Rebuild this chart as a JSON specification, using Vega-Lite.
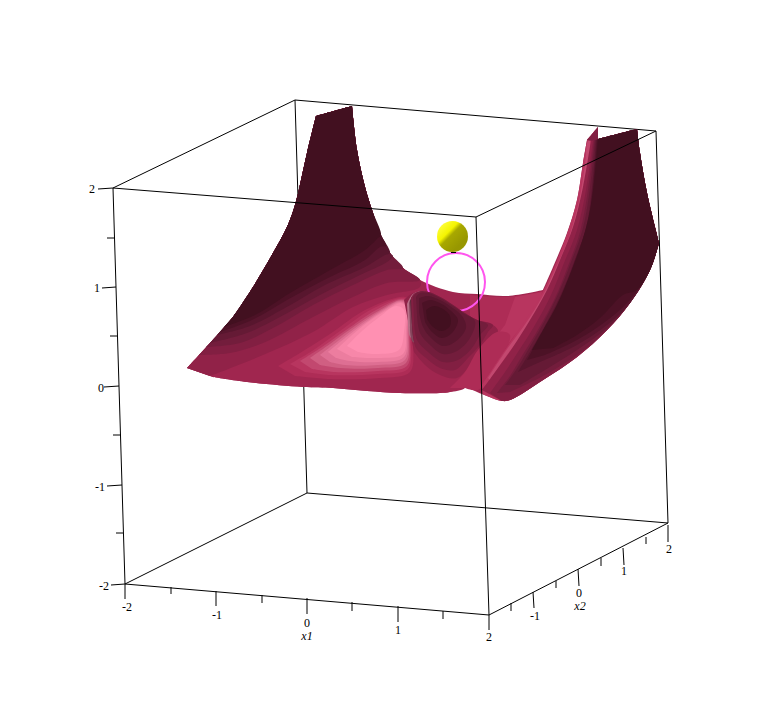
{"$schema":"https://vega.github.io/schema/vega-lite/v6.json","width":782,"height":714,"padding":0,"autosize":{"type":"fit","contains":"padding"},"background":"white","view":{"stroke":null},
"datasets":{
"edgesBack":[
{"edge":"AB","x":113,"y":188},{"edge":"AB","x":295,"y":100},
{"edge":"BC","x":295,"y":100},{"edge":"BC","x":656,"y":131},
{"edge":"BF","x":295,"y":100},{"edge":"BF","x":307,"y":493},
{"edge":"EF","x":125,"y":584},{"edge":"EF","x":307,"y":493},
{"edge":"FG","x":307,"y":493},{"edge":"FG","x":668,"y":523},
{"edge":"CG","x":656,"y":131},{"edge":"CG","x":668,"y":523}],
"edgesFront":[
{"edge":"AD","x":113,"y":188},{"edge":"AD","x":476,"y":217},
{"edge":"CD","x":656,"y":131},{"edge":"CD","x":476,"y":217},
{"edge":"DH","x":476,"y":217},{"edge":"DH","x":489,"y":615},
{"edge":"AE","x":113,"y":188},{"edge":"AE","x":125,"y":584},
{"edge":"EH","x":125,"y":584},{"edge":"EH","x":489,"y":615},
{"edge":"HG","x":489,"y":615},{"edge":"HG","x":668,"y":523},
{"edge":"z2","x":98,"y":189},{"edge":"z2","x":113,"y":188},
{"edge":"z15","x":107,"y":238},{"edge":"z15","x":114,"y":238},
{"edge":"z1","x":102,"y":288},{"edge":"z1","x":116,"y":287},
{"edge":"z05","x":110,"y":336},{"edge":"z05","x":117,"y":336},
{"edge":"z0","x":104,"y":387},{"edge":"z0","x":119,"y":386},
{"edge":"zm05","x":113,"y":435},{"edge":"zm05","x":121,"y":435},
{"edge":"zm1","x":107,"y":486},{"edge":"zm1","x":122,"y":485},
{"edge":"zm15","x":116,"y":533},{"edge":"zm15","x":123,"y":533},
{"edge":"zm2","x":111,"y":585},{"edge":"zm2","x":125,"y":584},
{"edge":"a2","x":125,"y":584},{"edge":"a2","x":125,"y":599},
{"edge":"a15","x":171,"y":587},{"edge":"a15","x":171,"y":594},
{"edge":"a1","x":216,"y":591},{"edge":"a1","x":216,"y":606},
{"edge":"a05","x":262,"y":595},{"edge":"a05","x":262,"y":603},
{"edge":"a0","x":307,"y":598},{"edge":"a0","x":307,"y":614},
{"edge":"ap05","x":352,"y":602},{"edge":"ap05","x":352,"y":611},
{"edge":"ap1","x":398,"y":606},{"edge":"ap1","x":398,"y":622},
{"edge":"ap15","x":443,"y":611},{"edge":"ap15","x":443,"y":619},
{"edge":"ap2","x":489,"y":615},{"edge":"ap2","x":489,"y":630},
{"edge":"b15","x":511,"y":603},{"edge":"b15","x":511,"y":611},
{"edge":"b1","x":533,"y":592},{"edge":"b1","x":534,"y":608},
{"edge":"b05","x":556,"y":581},{"edge":"b05","x":556,"y":588},
{"edge":"b0","x":578,"y":569},{"edge":"b0","x":579,"y":586},
{"edge":"bp05","x":601,"y":558},{"edge":"bp05","x":601,"y":566},
{"edge":"bp1","x":623,"y":548},{"edge":"bp1","x":624,"y":565},
{"edge":"bp15","x":646,"y":537},{"edge":"bp15","x":646,"y":544},
{"edge":"bp2","x":668,"y":525},{"edge":"bp2","x":668,"y":542},
{"edge":"tip","x":451,"y":252.5},{"edge":"tip","x":456,"y":252.5}],
"labels":[
{"text":"2","x":92,"y":189},{"text":"1","x":97,"y":288},{"text":"0","x":101,"y":388},{"text":"-1","x":100,"y":487},{"text":"-2","x":104,"y":586},
{"text":"-2","x":127,"y":607},{"text":"-1","x":217,"y":615},{"text":"0","x":307,"y":623},{"text":"1","x":398,"y":630},{"text":"2","x":489,"y":637},
{"text":"-1","x":535,"y":616},{"text":"0","x":579,"y":593},{"text":"1","x":624,"y":571},{"text":"2","x":669,"y":549}],
"axisTitles":[{"text":"x1","x":307,"y":636},{"text":"x2","x":580,"y":606}],
"balls":[{"name":"ring","x":456,"y":282},{"name":"sphere","x":452.5,"y":236.5}],
"surfaceBack":[
{"p":1,"s":7,"x":187,"y":368},{"p":1,"s":7,"x":187,"y":368},{"p":1,"s":7,"x":210,"y":343},{"p":1,"s":7,"x":233,"y":317},{"p":1,"s":7,"x":253,"y":287},{"p":1,"s":7,"x":273,"y":253},{"p":1,"s":7,"x":287,"y":227},{"p":1,"s":7,"x":295,"y":205},{"p":1,"s":7,"x":307,"y":153},{"p":1,"s":7,"x":316,"y":116},{"p":1,"s":7,"x":316,"y":116},{"p":1,"s":7,"x":352,"y":106},{"p":1,"s":7,"x":352,"y":106},{"p":1,"s":7,"x":357,"y":150},{"p":1,"s":7,"x":365,"y":187},{"p":1,"s":7,"x":372,"y":210},{"p":1,"s":7,"x":380,"y":233},{"p":1,"s":7,"x":390,"y":253},{"p":1,"s":7,"x":403,"y":268},{"p":1,"s":7,"x":420,"y":280},{"p":1,"s":7,"x":453,"y":292},{"p":1,"s":7,"x":477,"y":294},{"p":1,"s":7,"x":507,"y":296},{"p":1,"s":7,"x":543,"y":290},{"p":1,"s":7,"x":543,"y":290},{"p":1,"s":7,"x":553,"y":267},{"p":1,"s":7,"x":567,"y":233},{"p":1,"s":7,"x":577,"y":200},{"p":1,"s":7,"x":583,"y":163},{"p":1,"s":7,"x":587,"y":140},{"p":1,"s":7,"x":587,"y":140},{"p":1,"s":7,"x":598,"y":127},{"p":1,"s":7,"x":598,"y":127},{"p":1,"s":7,"x":598,"y":139},{"p":1,"s":7,"x":598,"y":139},{"p":1,"s":7,"x":637,"y":129},{"p":1,"s":7,"x":637,"y":129},{"p":1,"s":7,"x":640,"y":153},{"p":1,"s":7,"x":647,"y":193},{"p":1,"s":7,"x":659,"y":243},{"p":1,"s":7,"x":659,"y":243},{"p":1,"s":7,"x":650,"y":270},{"p":1,"s":7,"x":630,"y":303},{"p":1,"s":7,"x":607,"y":330},{"p":1,"s":7,"x":577,"y":357},{"p":1,"s":7,"x":543,"y":380},{"p":1,"s":7,"x":510,"y":400},{"p":1,"s":7,"x":502,"y":401},{"p":1,"s":7,"x":482,"y":394},{"p":1,"s":7,"x":465,"y":388},{"p":1,"s":7,"x":450,"y":392},{"p":1,"s":7,"x":440,"y":393},{"p":1,"s":7,"x":400,"y":393},{"p":1,"s":7,"x":367,"y":391},{"p":1,"s":7,"x":333,"y":388},{"p":1,"s":7,"x":303,"y":387},{"p":1,"s":7,"x":247,"y":382},{"p":1,"s":7,"x":213,"y":377},
{"p":2,"s":8,"x":470,"y":295},{"p":2,"s":8,"x":470,"y":295},{"p":2,"s":8,"x":507,"y":297},{"p":2,"s":8,"x":543,"y":291},{"p":2,"s":8,"x":543,"y":291},{"p":2,"s":8,"x":530,"y":320},{"p":2,"s":8,"x":510,"y":345},{"p":2,"s":8,"x":480,"y":385},{"p":2,"s":8,"x":470,"y":360},
{"p":3,"s":9,"x":515,"y":297},{"p":3,"s":9,"x":515,"y":297},{"p":3,"s":9,"x":542,"y":292},{"p":3,"s":9,"x":542,"y":292},{"p":3,"s":9,"x":540,"y":300},{"p":3,"s":9,"x":525,"y":322},{"p":3,"s":9,"x":505,"y":348},{"p":3,"s":9,"x":490,"y":370},{"p":3,"s":9,"x":492,"y":345},{"p":3,"s":9,"x":505,"y":325}],
"surfaceFront":[
{"p":10,"s":7,"x":187,"y":368},{"p":10,"s":7,"x":187,"y":368},{"p":10,"s":7,"x":210,"y":343},{"p":10,"s":7,"x":233,"y":317},{"p":10,"s":7,"x":253,"y":287},{"p":10,"s":7,"x":273,"y":253},{"p":10,"s":7,"x":287,"y":227},{"p":10,"s":7,"x":295,"y":205},{"p":10,"s":7,"x":307,"y":153},{"p":10,"s":7,"x":316,"y":116},{"p":10,"s":7,"x":316,"y":116},{"p":10,"s":7,"x":352,"y":106},{"p":10,"s":7,"x":352,"y":106},{"p":10,"s":7,"x":357,"y":150},{"p":10,"s":7,"x":365,"y":187},{"p":10,"s":7,"x":372,"y":210},{"p":10,"s":7,"x":380,"y":233},{"p":10,"s":7,"x":390,"y":253},{"p":10,"s":7,"x":403,"y":268},{"p":10,"s":7,"x":420,"y":280},{"p":10,"s":7,"x":428,"y":292},{"p":10,"s":7,"x":440,"y":297},{"p":10,"s":7,"x":453,"y":305},{"p":10,"s":7,"x":463,"y":312},{"p":10,"s":7,"x":477,"y":320},{"p":10,"s":7,"x":493,"y":325},{"p":10,"s":7,"x":486,"y":345},{"p":10,"s":7,"x":470,"y":375},{"p":10,"s":7,"x":465,"y":388},{"p":10,"s":7,"x":450,"y":392},{"p":10,"s":7,"x":440,"y":393},{"p":10,"s":7,"x":400,"y":393},{"p":10,"s":7,"x":367,"y":391},{"p":10,"s":7,"x":333,"y":388},{"p":10,"s":7,"x":303,"y":387},{"p":10,"s":7,"x":247,"y":382},{"p":10,"s":7,"x":213,"y":377},
{"p":11,"s":6,"x":210,"y":376},{"p":11,"s":6,"x":263,"y":355},{"p":11,"s":6,"x":313,"y":332},{"p":11,"s":6,"x":353,"y":307},{"p":11,"s":6,"x":387,"y":295},{"p":11,"s":6,"x":420,"y":287},{"p":11,"s":6,"x":420,"y":280},{"p":11,"s":6,"x":403,"y":268},{"p":11,"s":6,"x":390,"y":253},{"p":11,"s":6,"x":380,"y":233},{"p":11,"s":6,"x":372,"y":210},{"p":11,"s":6,"x":365,"y":187},{"p":11,"s":6,"x":357,"y":150},{"p":11,"s":6,"x":352,"y":106},{"p":11,"s":6,"x":352,"y":106},{"p":11,"s":6,"x":316,"y":116},{"p":11,"s":6,"x":316,"y":116},{"p":11,"s":6,"x":307,"y":153},{"p":11,"s":6,"x":295,"y":205},{"p":11,"s":6,"x":287,"y":227},{"p":11,"s":6,"x":273,"y":253},{"p":11,"s":6,"x":253,"y":287},{"p":11,"s":6,"x":233,"y":317},{"p":11,"s":6,"x":210,"y":343},{"p":11,"s":6,"x":187,"y":368},{"p":11,"s":6,"x":187,"y":368},
{"p":12,"s":5,"x":199,"y":355},{"p":12,"s":5,"x":230,"y":353},{"p":12,"s":5,"x":263,"y":343},{"p":12,"s":5,"x":313,"y":317},{"p":12,"s":5,"x":353,"y":297},{"p":12,"s":5,"x":387,"y":283},{"p":12,"s":5,"x":420,"y":280},{"p":12,"s":5,"x":403,"y":268},{"p":12,"s":5,"x":390,"y":253},{"p":12,"s":5,"x":380,"y":233},{"p":12,"s":5,"x":372,"y":210},{"p":12,"s":5,"x":365,"y":187},{"p":12,"s":5,"x":357,"y":150},{"p":12,"s":5,"x":352,"y":106},{"p":12,"s":5,"x":352,"y":106},{"p":12,"s":5,"x":316,"y":116},{"p":12,"s":5,"x":316,"y":116},{"p":12,"s":5,"x":307,"y":153},{"p":12,"s":5,"x":295,"y":205},{"p":12,"s":5,"x":287,"y":227},{"p":12,"s":5,"x":273,"y":253},{"p":12,"s":5,"x":253,"y":287},{"p":12,"s":5,"x":233,"y":317},{"p":12,"s":5,"x":210,"y":343},
{"p":13,"s":4,"x":206,"y":347},{"p":13,"s":4,"x":240,"y":343},{"p":13,"s":4,"x":273,"y":328},{"p":13,"s":4,"x":313,"y":305},{"p":13,"s":4,"x":353,"y":285},{"p":13,"s":4,"x":387,"y":270},{"p":13,"s":4,"x":403,"y":268},{"p":13,"s":4,"x":390,"y":253},{"p":13,"s":4,"x":380,"y":233},{"p":13,"s":4,"x":372,"y":210},{"p":13,"s":4,"x":365,"y":187},{"p":13,"s":4,"x":357,"y":150},{"p":13,"s":4,"x":352,"y":106},{"p":13,"s":4,"x":352,"y":106},{"p":13,"s":4,"x":316,"y":116},{"p":13,"s":4,"x":316,"y":116},{"p":13,"s":4,"x":307,"y":153},{"p":13,"s":4,"x":295,"y":205},{"p":13,"s":4,"x":287,"y":227},{"p":13,"s":4,"x":273,"y":253},{"p":13,"s":4,"x":253,"y":287},{"p":13,"s":4,"x":233,"y":317},{"p":13,"s":4,"x":210,"y":343},
{"p":14,"s":3,"x":210,"y":343},{"p":14,"s":3,"x":247,"y":333},{"p":14,"s":3,"x":280,"y":317},{"p":14,"s":3,"x":320,"y":295},{"p":14,"s":3,"x":360,"y":275},{"p":14,"s":3,"x":387,"y":262},{"p":14,"s":3,"x":393,"y":256},{"p":14,"s":3,"x":390,"y":253},{"p":14,"s":3,"x":380,"y":233},{"p":14,"s":3,"x":372,"y":210},{"p":14,"s":3,"x":365,"y":187},{"p":14,"s":3,"x":357,"y":150},{"p":14,"s":3,"x":352,"y":106},{"p":14,"s":3,"x":352,"y":106},{"p":14,"s":3,"x":316,"y":116},{"p":14,"s":3,"x":316,"y":116},{"p":14,"s":3,"x":307,"y":153},{"p":14,"s":3,"x":295,"y":205},{"p":14,"s":3,"x":287,"y":227},{"p":14,"s":3,"x":273,"y":253},{"p":14,"s":3,"x":253,"y":287},{"p":14,"s":3,"x":233,"y":317},
{"p":15,"s":2,"x":217,"y":335},{"p":15,"s":2,"x":250,"y":326},{"p":15,"s":2,"x":285,"y":308},{"p":15,"s":2,"x":325,"y":285},{"p":15,"s":2,"x":365,"y":267},{"p":15,"s":2,"x":385,"y":255},{"p":15,"s":2,"x":390,"y":253},{"p":15,"s":2,"x":380,"y":233},{"p":15,"s":2,"x":372,"y":210},{"p":15,"s":2,"x":365,"y":187},{"p":15,"s":2,"x":357,"y":150},{"p":15,"s":2,"x":352,"y":106},{"p":15,"s":2,"x":352,"y":106},{"p":15,"s":2,"x":316,"y":116},{"p":15,"s":2,"x":316,"y":116},{"p":15,"s":2,"x":307,"y":153},{"p":15,"s":2,"x":295,"y":205},{"p":15,"s":2,"x":287,"y":227},{"p":15,"s":2,"x":273,"y":253},{"p":15,"s":2,"x":253,"y":287},{"p":15,"s":2,"x":233,"y":317},
{"p":16,"s":1,"x":220,"y":332},{"p":16,"s":1,"x":252,"y":320},{"p":16,"s":1,"x":287,"y":300},{"p":16,"s":1,"x":328,"y":278},{"p":16,"s":1,"x":365,"y":260},{"p":16,"s":1,"x":380,"y":247},{"p":16,"s":1,"x":386,"y":246},{"p":16,"s":1,"x":380,"y":233},{"p":16,"s":1,"x":372,"y":210},{"p":16,"s":1,"x":365,"y":187},{"p":16,"s":1,"x":357,"y":150},{"p":16,"s":1,"x":352,"y":106},{"p":16,"s":1,"x":352,"y":106},{"p":16,"s":1,"x":316,"y":116},{"p":16,"s":1,"x":316,"y":116},{"p":16,"s":1,"x":307,"y":153},{"p":16,"s":1,"x":295,"y":205},{"p":16,"s":1,"x":287,"y":227},{"p":16,"s":1,"x":273,"y":253},{"p":16,"s":1,"x":253,"y":287},{"p":16,"s":1,"x":233,"y":317},
{"p":17,"s":0,"x":224,"y":327},{"p":17,"s":0,"x":255,"y":315},{"p":17,"s":0,"x":290,"y":293},{"p":17,"s":0,"x":330,"y":270},{"p":17,"s":0,"x":365,"y":250},{"p":17,"s":0,"x":378,"y":238},{"p":17,"s":0,"x":381,"y":235},{"p":17,"s":0,"x":372,"y":210},{"p":17,"s":0,"x":365,"y":187},{"p":17,"s":0,"x":357,"y":150},{"p":17,"s":0,"x":352,"y":106},{"p":17,"s":0,"x":352,"y":106},{"p":17,"s":0,"x":316,"y":116},{"p":17,"s":0,"x":316,"y":116},{"p":17,"s":0,"x":307,"y":153},{"p":17,"s":0,"x":295,"y":205},{"p":17,"s":0,"x":287,"y":227},{"p":17,"s":0,"x":273,"y":253},{"p":17,"s":0,"x":253,"y":287},{"p":17,"s":0,"x":233,"y":317},
{"p":20,"s":8,"x":278,"y":366},{"p":20,"s":8,"x":300,"y":353},{"p":20,"s":8,"x":330,"y":334},{"p":20,"s":8,"x":367,"y":309},{"p":20,"s":8,"x":405,"y":297},{"p":20,"s":8,"x":412,"y":303},{"p":20,"s":8,"x":413,"y":340},{"p":20,"s":8,"x":410,"y":372},{"p":20,"s":8,"x":380,"y":378},{"p":20,"s":8,"x":330,"y":379},{"p":20,"s":8,"x":295,"y":376},
{"p":21,"s":9,"x":290,"y":364},{"p":21,"s":9,"x":312,"y":351},{"p":21,"s":9,"x":340,"y":331},{"p":21,"s":9,"x":372,"y":309},{"p":21,"s":9,"x":403,"y":298},{"p":21,"s":9,"x":411,"y":303},{"p":21,"s":9,"x":411,"y":340},{"p":21,"s":9,"x":408,"y":369},{"p":21,"s":9,"x":378,"y":374},{"p":21,"s":9,"x":330,"y":375},{"p":21,"s":9,"x":305,"y":372},
{"p":22,"s":10,"x":300,"y":361},{"p":22,"s":10,"x":322,"y":347},{"p":22,"s":10,"x":346,"y":330},{"p":22,"s":10,"x":376,"y":310},{"p":22,"s":10,"x":402,"y":299},{"p":22,"s":10,"x":410,"y":303},{"p":22,"s":10,"x":410,"y":335},{"p":22,"s":10,"x":407,"y":366},{"p":22,"s":10,"x":378,"y":371},{"p":22,"s":10,"x":335,"y":372},{"p":22,"s":10,"x":312,"y":369},
{"p":23,"s":11,"x":310,"y":358},{"p":23,"s":11,"x":330,"y":344},{"p":23,"s":11,"x":352,"y":328},{"p":23,"s":11,"x":380,"y":310},{"p":23,"s":11,"x":401,"y":300},{"p":23,"s":11,"x":409,"y":303},{"p":23,"s":11,"x":409,"y":335},{"p":23,"s":11,"x":406,"y":363},{"p":23,"s":11,"x":378,"y":368},{"p":23,"s":11,"x":340,"y":368},{"p":23,"s":11,"x":320,"y":365},
{"p":24,"s":12,"x":320,"y":355},{"p":24,"s":12,"x":338,"y":341},{"p":24,"s":12,"x":358,"y":326},{"p":24,"s":12,"x":384,"y":309},{"p":24,"s":12,"x":400,"y":301},{"p":24,"s":12,"x":408,"y":304},{"p":24,"s":12,"x":408,"y":330},{"p":24,"s":12,"x":405,"y":360},{"p":24,"s":12,"x":378,"y":365},{"p":24,"s":12,"x":345,"y":365},{"p":24,"s":12,"x":330,"y":362},
{"p":25,"s":13,"x":328,"y":352},{"p":25,"s":13,"x":345,"y":338},{"p":25,"s":13,"x":362,"y":325},{"p":25,"s":13,"x":386,"y":309},{"p":25,"s":13,"x":400,"y":302},{"p":25,"s":13,"x":407,"y":305},{"p":25,"s":13,"x":407,"y":330},{"p":25,"s":13,"x":404,"y":357},{"p":25,"s":13,"x":378,"y":362},{"p":25,"s":13,"x":350,"y":361},{"p":25,"s":13,"x":336,"y":358},
{"p":26,"s":14,"x":337,"y":349},{"p":26,"s":14,"x":352,"y":335},{"p":26,"s":14,"x":368,"y":322},{"p":26,"s":14,"x":390,"y":308},{"p":26,"s":14,"x":400,"y":303},{"p":26,"s":14,"x":406,"y":306},{"p":26,"s":14,"x":406,"y":330},{"p":26,"s":14,"x":403,"y":354},{"p":26,"s":14,"x":378,"y":358},{"p":26,"s":14,"x":352,"y":357},
{"p":27,"s":15,"x":347,"y":346},{"p":27,"s":15,"x":362,"y":331},{"p":27,"s":15,"x":378,"y":318},{"p":27,"s":15,"x":396,"y":306},{"p":27,"s":15,"x":404,"y":310},{"p":27,"s":15,"x":404,"y":332},{"p":27,"s":15,"x":399,"y":350},{"p":27,"s":15,"x":376,"y":354},{"p":27,"s":15,"x":358,"y":352},
{"p":30,"s":6,"x":404,"y":300},{"p":30,"s":6,"x":413,"y":293},{"p":30,"s":6,"x":428,"y":292},{"p":30,"s":6,"x":440,"y":297},{"p":30,"s":6,"x":453,"y":305},{"p":30,"s":6,"x":463,"y":312},{"p":30,"s":6,"x":477,"y":320},{"p":30,"s":6,"x":493,"y":325},{"p":30,"s":6,"x":498,"y":331},{"p":30,"s":6,"x":487,"y":345},{"p":30,"s":6,"x":473,"y":362},{"p":30,"s":6,"x":457,"y":378},{"p":30,"s":6,"x":440,"y":375},{"p":30,"s":6,"x":425,"y":365},{"p":30,"s":6,"x":414,"y":352},
{"p":31,"s":16,"x":407,"y":304},{"p":31,"s":16,"x":413,"y":294},{"p":31,"s":16,"x":425,"y":292},{"p":31,"s":16,"x":430,"y":335},{"p":31,"s":16,"x":411,"y":338},{"p":31,"s":16,"x":408,"y":325},
{"p":32,"s":17,"x":409,"y":303},{"p":32,"s":17,"x":414,"y":294},{"p":32,"s":17,"x":425,"y":292},{"p":32,"s":17,"x":430,"y":340},{"p":32,"s":17,"x":413,"y":342},{"p":32,"s":17,"x":410,"y":325},
{"p":33,"s":18,"x":410,"y":301},{"p":33,"s":18,"x":415,"y":294},{"p":33,"s":18,"x":425,"y":292},{"p":33,"s":18,"x":430,"y":345},{"p":33,"s":18,"x":416,"y":345},{"p":33,"s":18,"x":412,"y":325},
{"p":34,"s":5,"x":411,"y":298},{"p":34,"s":5,"x":415,"y":293},{"p":34,"s":5,"x":428,"y":292},{"p":34,"s":5,"x":440,"y":297},{"p":34,"s":5,"x":453,"y":305},{"p":34,"s":5,"x":463,"y":312},{"p":34,"s":5,"x":477,"y":320},{"p":34,"s":5,"x":493,"y":325},{"p":34,"s":5,"x":488,"y":332},{"p":34,"s":5,"x":480,"y":345},{"p":34,"s":5,"x":468,"y":358},{"p":34,"s":5,"x":455,"y":370},{"p":34,"s":5,"x":440,"y":368},{"p":34,"s":5,"x":426,"y":358},{"p":34,"s":5,"x":416,"y":348},{"p":34,"s":5,"x":412,"y":325},
{"p":35,"s":4,"x":413,"y":297},{"p":35,"s":4,"x":418,"y":292},{"p":35,"s":4,"x":428,"y":292},{"p":35,"s":4,"x":440,"y":297},{"p":35,"s":4,"x":453,"y":305},{"p":35,"s":4,"x":463,"y":312},{"p":35,"s":4,"x":477,"y":320},{"p":35,"s":4,"x":488,"y":325},{"p":35,"s":4,"x":480,"y":335},{"p":35,"s":4,"x":472,"y":348},{"p":35,"s":4,"x":458,"y":360},{"p":35,"s":4,"x":443,"y":362},{"p":35,"s":4,"x":428,"y":352},{"p":35,"s":4,"x":417,"y":340},{"p":35,"s":4,"x":414,"y":320},
{"p":36,"s":3,"x":416,"y":297},{"p":36,"s":3,"x":420,"y":293},{"p":36,"s":3,"x":428,"y":293},{"p":36,"s":3,"x":440,"y":298},{"p":36,"s":3,"x":453,"y":306},{"p":36,"s":3,"x":463,"y":313},{"p":36,"s":3,"x":475,"y":321},{"p":36,"s":3,"x":470,"y":338},{"p":36,"s":3,"x":457,"y":351},{"p":36,"s":3,"x":443,"y":354},{"p":36,"s":3,"x":430,"y":345},{"p":36,"s":3,"x":420,"y":333},{"p":36,"s":3,"x":417,"y":315},
{"p":37,"s":2,"x":419,"y":298},{"p":37,"s":2,"x":428,"y":296},{"p":37,"s":2,"x":440,"y":300},{"p":37,"s":2,"x":450,"y":306},{"p":37,"s":2,"x":462,"y":316},{"p":37,"s":2,"x":466,"y":328},{"p":37,"s":2,"x":455,"y":342},{"p":37,"s":2,"x":443,"y":346},{"p":37,"s":2,"x":431,"y":338},{"p":37,"s":2,"x":423,"y":327},{"p":37,"s":2,"x":419,"y":312},
{"p":38,"s":1,"x":422,"y":303},{"p":38,"s":1,"x":430,"y":300},{"p":38,"s":1,"x":440,"y":303},{"p":38,"s":1,"x":450,"y":310},{"p":38,"s":1,"x":458,"y":320},{"p":38,"s":1,"x":452,"y":333},{"p":38,"s":1,"x":442,"y":338},{"p":38,"s":1,"x":432,"y":332},{"p":38,"s":1,"x":425,"y":322},
{"p":39,"s":0,"x":426,"y":310},{"p":39,"s":0,"x":434,"y":306},{"p":39,"s":0,"x":443,"y":309},{"p":39,"s":0,"x":450,"y":316},{"p":39,"s":0,"x":450,"y":326},{"p":39,"s":0,"x":442,"y":331},{"p":39,"s":0,"x":433,"y":327},{"p":39,"s":0,"x":427,"y":319},
{"p":40,"s":8,"x":450,"y":388},{"p":40,"s":8,"x":465,"y":372},{"p":40,"s":8,"x":478,"y":350},{"p":40,"s":8,"x":497,"y":332},{"p":40,"s":8,"x":510,"y":335},{"p":40,"s":8,"x":490,"y":375},{"p":40,"s":8,"x":478,"y":390},{"p":40,"s":8,"x":465,"y":388},
{"p":50,"s":9,"x":482,"y":385},{"p":50,"s":9,"x":503,"y":353},{"p":50,"s":9,"x":524,"y":322},{"p":50,"s":9,"x":540,"y":297},{"p":50,"s":9,"x":553,"y":270},{"p":50,"s":9,"x":567,"y":234},{"p":50,"s":9,"x":577,"y":200},{"p":50,"s":9,"x":583,"y":163},{"p":50,"s":9,"x":587,"y":140},{"p":50,"s":9,"x":587,"y":140},{"p":50,"s":9,"x":598,"y":127},{"p":50,"s":9,"x":598,"y":127},{"p":50,"s":9,"x":598,"y":139},{"p":50,"s":9,"x":598,"y":139},{"p":50,"s":9,"x":637,"y":129},{"p":50,"s":9,"x":637,"y":129},{"p":50,"s":9,"x":640,"y":153},{"p":50,"s":9,"x":647,"y":193},{"p":50,"s":9,"x":659,"y":243},{"p":50,"s":9,"x":659,"y":243},{"p":50,"s":9,"x":650,"y":270},{"p":50,"s":9,"x":630,"y":303},{"p":50,"s":9,"x":607,"y":330},{"p":50,"s":9,"x":577,"y":357},{"p":50,"s":9,"x":543,"y":380},{"p":50,"s":9,"x":510,"y":400},{"p":50,"s":9,"x":502,"y":401},{"p":50,"s":9,"x":482,"y":394},
{"p":51,"s":10,"x":488,"y":378},{"p":51,"s":10,"x":505,"y":352},{"p":51,"s":10,"x":526,"y":323},{"p":51,"s":10,"x":541,"y":299},{"p":51,"s":10,"x":554,"y":272},{"p":51,"s":10,"x":569,"y":237},{"p":51,"s":10,"x":579,"y":201},{"p":51,"s":10,"x":585,"y":165},{"p":51,"s":10,"x":588,"y":141},{"p":51,"s":10,"x":590,"y":141},{"p":51,"s":10,"x":588,"y":165},{"p":51,"s":10,"x":583,"y":203},{"p":51,"s":10,"x":573,"y":240},{"p":51,"s":10,"x":558,"y":275},{"p":51,"s":10,"x":545,"y":302},{"p":51,"s":10,"x":529,"y":326},{"p":51,"s":10,"x":507,"y":355},{"p":51,"s":10,"x":490,"y":380},
{"p":52,"s":6,"x":482,"y":390},{"p":52,"s":6,"x":498,"y":368},{"p":52,"s":6,"x":513,"y":347},{"p":52,"s":6,"x":530,"y":320},{"p":52,"s":6,"x":547,"y":290},{"p":52,"s":6,"x":560,"y":260},{"p":52,"s":6,"x":573,"y":227},{"p":52,"s":6,"x":583,"y":187},{"p":52,"s":6,"x":591,"y":140},{"p":52,"s":6,"x":591,"y":140},{"p":52,"s":6,"x":598,"y":139},{"p":52,"s":6,"x":598,"y":139},{"p":52,"s":6,"x":637,"y":129},{"p":52,"s":6,"x":637,"y":129},{"p":52,"s":6,"x":640,"y":153},{"p":52,"s":6,"x":647,"y":193},{"p":52,"s":6,"x":659,"y":243},{"p":52,"s":6,"x":659,"y":243},{"p":52,"s":6,"x":650,"y":270},{"p":52,"s":6,"x":630,"y":303},{"p":52,"s":6,"x":607,"y":330},{"p":52,"s":6,"x":577,"y":357},{"p":52,"s":6,"x":543,"y":380},{"p":52,"s":6,"x":510,"y":400},{"p":52,"s":6,"x":502,"y":401},
{"p":53,"s":5,"x":490,"y":393},{"p":53,"s":5,"x":505,"y":372},{"p":53,"s":5,"x":518,"y":352},{"p":53,"s":5,"x":535,"y":325},{"p":53,"s":5,"x":551,"y":295},{"p":53,"s":5,"x":564,"y":263},{"p":53,"s":5,"x":577,"y":230},{"p":53,"s":5,"x":586,"y":190},{"p":53,"s":5,"x":593,"y":140},{"p":53,"s":5,"x":593,"y":140},{"p":53,"s":5,"x":598,"y":139},{"p":53,"s":5,"x":598,"y":139},{"p":53,"s":5,"x":637,"y":129},{"p":53,"s":5,"x":637,"y":129},{"p":53,"s":5,"x":640,"y":153},{"p":53,"s":5,"x":647,"y":193},{"p":53,"s":5,"x":659,"y":243},{"p":53,"s":5,"x":659,"y":243},{"p":53,"s":5,"x":650,"y":270},{"p":53,"s":5,"x":630,"y":303},{"p":53,"s":5,"x":607,"y":330},{"p":53,"s":5,"x":577,"y":357},{"p":53,"s":5,"x":543,"y":380},{"p":53,"s":5,"x":510,"y":400},{"p":53,"s":5,"x":502,"y":401},
{"p":54,"s":4,"x":497,"y":393},{"p":54,"s":4,"x":510,"y":376},{"p":54,"s":4,"x":522,"y":356},{"p":54,"s":4,"x":539,"y":328},{"p":54,"s":4,"x":555,"y":298},{"p":54,"s":4,"x":568,"y":266},{"p":54,"s":4,"x":580,"y":232},{"p":54,"s":4,"x":588,"y":190},{"p":54,"s":4,"x":594,"y":140},{"p":54,"s":4,"x":594,"y":140},{"p":54,"s":4,"x":598,"y":139},{"p":54,"s":4,"x":598,"y":139},{"p":54,"s":4,"x":637,"y":129},{"p":54,"s":4,"x":637,"y":129},{"p":54,"s":4,"x":640,"y":153},{"p":54,"s":4,"x":647,"y":193},{"p":54,"s":4,"x":659,"y":243},{"p":54,"s":4,"x":659,"y":243},{"p":54,"s":4,"x":650,"y":270},{"p":54,"s":4,"x":630,"y":303},{"p":54,"s":4,"x":607,"y":330},{"p":54,"s":4,"x":577,"y":355},{"p":54,"s":4,"x":543,"y":376},{"p":54,"s":4,"x":510,"y":392},
{"p":55,"s":3,"x":505,"y":385},{"p":55,"s":3,"x":516,"y":370},{"p":55,"s":3,"x":528,"y":350},{"p":55,"s":3,"x":544,"y":322},{"p":55,"s":3,"x":559,"y":292},{"p":55,"s":3,"x":571,"y":262},{"p":55,"s":3,"x":583,"y":228},{"p":55,"s":3,"x":590,"y":188},{"p":55,"s":3,"x":595,"y":140},{"p":55,"s":3,"x":595,"y":140},{"p":55,"s":3,"x":598,"y":139},{"p":55,"s":3,"x":598,"y":139},{"p":55,"s":3,"x":637,"y":129},{"p":55,"s":3,"x":637,"y":129},{"p":55,"s":3,"x":640,"y":153},{"p":55,"s":3,"x":647,"y":193},{"p":55,"s":3,"x":659,"y":243},{"p":55,"s":3,"x":659,"y":243},{"p":55,"s":3,"x":650,"y":270},{"p":55,"s":3,"x":630,"y":303},{"p":55,"s":3,"x":607,"y":328},{"p":55,"s":3,"x":577,"y":350},{"p":55,"s":3,"x":545,"y":370},{"p":55,"s":3,"x":520,"y":385},
{"p":56,"s":2,"x":518,"y":372},{"p":56,"s":2,"x":531,"y":350},{"p":56,"s":2,"x":547,"y":322},{"p":56,"s":2,"x":562,"y":292},{"p":56,"s":2,"x":574,"y":262},{"p":56,"s":2,"x":586,"y":228},{"p":56,"s":2,"x":592,"y":188},{"p":56,"s":2,"x":596,"y":140},{"p":56,"s":2,"x":596,"y":140},{"p":56,"s":2,"x":598,"y":139},{"p":56,"s":2,"x":598,"y":139},{"p":56,"s":2,"x":637,"y":129},{"p":56,"s":2,"x":637,"y":129},{"p":56,"s":2,"x":640,"y":153},{"p":56,"s":2,"x":647,"y":193},{"p":56,"s":2,"x":659,"y":243},{"p":56,"s":2,"x":659,"y":243},{"p":56,"s":2,"x":650,"y":270},{"p":56,"s":2,"x":630,"y":303},{"p":56,"s":2,"x":607,"y":325},{"p":56,"s":2,"x":577,"y":345},{"p":56,"s":2,"x":540,"y":362},
{"p":57,"s":1,"x":527,"y":360},{"p":57,"s":1,"x":538,"y":340},{"p":57,"s":1,"x":552,"y":315},{"p":57,"s":1,"x":566,"y":285},{"p":57,"s":1,"x":577,"y":255},{"p":57,"s":1,"x":588,"y":222},{"p":57,"s":1,"x":593,"y":186},{"p":57,"s":1,"x":597,"y":140},{"p":57,"s":1,"x":597,"y":140},{"p":57,"s":1,"x":637,"y":129},{"p":57,"s":1,"x":637,"y":129},{"p":57,"s":1,"x":640,"y":153},{"p":57,"s":1,"x":647,"y":193},{"p":57,"s":1,"x":659,"y":243},{"p":57,"s":1,"x":659,"y":243},{"p":57,"s":1,"x":650,"y":270},{"p":57,"s":1,"x":630,"y":300},{"p":57,"s":1,"x":605,"y":322},{"p":57,"s":1,"x":577,"y":340},{"p":57,"s":1,"x":545,"y":355},
{"p":58,"s":0,"x":532,"y":350},{"p":58,"s":0,"x":543,"y":330},{"p":58,"s":0,"x":557,"y":305},{"p":58,"s":0,"x":569,"y":277},{"p":58,"s":0,"x":580,"y":248},{"p":58,"s":0,"x":589,"y":215},{"p":58,"s":0,"x":594,"y":183},{"p":58,"s":0,"x":598,"y":139},{"p":58,"s":0,"x":598,"y":139},{"p":58,"s":0,"x":637,"y":129},{"p":58,"s":0,"x":637,"y":129},{"p":58,"s":0,"x":640,"y":153},{"p":58,"s":0,"x":647,"y":193},{"p":58,"s":0,"x":659,"y":243},{"p":58,"s":0,"x":659,"y":243},{"p":58,"s":0,"x":650,"y":270},{"p":58,"s":0,"x":637,"y":290},{"p":58,"s":0,"x":623,"y":295},{"p":58,"s":0,"x":600,"y":318},{"p":58,"s":0,"x":577,"y":335},{"p":58,"s":0,"x":553,"y":348},
{"p":59,"s":5,"x":587,"y":140},{"p":59,"s":5,"x":587,"y":140},{"p":59,"s":5,"x":598,"y":127},{"p":59,"s":5,"x":598,"y":127},{"p":59,"s":5,"x":598,"y":139},{"p":59,"s":5,"x":598,"y":139},{"p":59,"s":5,"x":592,"y":141}]
},
"encoding":{"x":{"field":"x","type":"quantitative","scale":{"domain":[0,782],"nice":false,"zero":false},"axis":null},"y":{"field":"y","type":"quantitative","scale":{"domain":[714,0],"nice":false,"zero":false},"axis":null}},
"layer":[
{"data":{"name":"edgesBack"},"mark":{"type":"line","stroke":"black","strokeWidth":1},"encoding":{"detail":{"field":"edge"},"order":{"value":null}}},
{"data":{"name":"surfaceBack"},"mark":{"type":"line","filled":true,"strokeWidth":0,"interpolate":"catmull-rom"},"encoding":{"detail":{"field":"p"},"order":{"value":null},"color":{"field":"s","type":"ordinal","legend":null,"scale":{"domain":[0,1,2,3,4,5,6,7,8,9,10,11,12,13,14,15,16,17,18],"range":["#421020","#4c1226","#58162e","#651a35","#731d3c","#821f42","#912248","#a0264f","#ae2c56","#b8355f","#c2486f","#d05f82","#de6f93","#ec7d9f","#f787a9","#ff90b2","#b87088","#85455c","#5e2a3c"]}}}},
{"data":{"name":"balls"},"transform":[{"filter":"datum.name==='ring'"}],"mark":{"type":"point","shape":"circle","filled":false,"size":3364,"stroke":"#ff55ee","strokeWidth":2,"opacity":1}},
{"data":{"name":"surfaceFront"},"mark":{"type":"line","filled":true,"strokeWidth":0,"interpolate":"catmull-rom"},"encoding":{"detail":{"field":"p"},"order":{"value":null},"color":{"field":"s","type":"ordinal","legend":null}}},
{"data":{"name":"edgesFront"},"mark":{"type":"line","stroke":"black","strokeWidth":1},"encoding":{"detail":{"field":"edge"},"order":{"value":null}}},
{"data":{"name":"balls"},"transform":[{"filter":"datum.name==='sphere'"}],"mark":{"type":"point","shape":"circle","filled":true,"size":961,"opacity":1,"fill":{"gradient":"linear","x1":0.1,"y1":0.1,"x2":0.75,"y2":0.75,"stops":[{"offset":0,"color":"#ffff40"},{"offset":0.4,"color":"#f4f400"},{"offset":0.55,"color":"#a8a800"},{"offset":1,"color":"#979700"}]},"stroke":null}},
{"data":{"name":"labels"},"mark":{"type":"text","font":"Liberation Serif","fontSize":12,"align":"center","baseline":"middle","color":"black"},"encoding":{"text":{"field":"text"}}},
{"data":{"name":"axisTitles"},"mark":{"type":"text","font":"Liberation Serif","fontSize":12,"fontStyle":"italic","align":"center","baseline":"middle","color":"black"},"encoding":{"text":{"field":"text"}}}
]}
